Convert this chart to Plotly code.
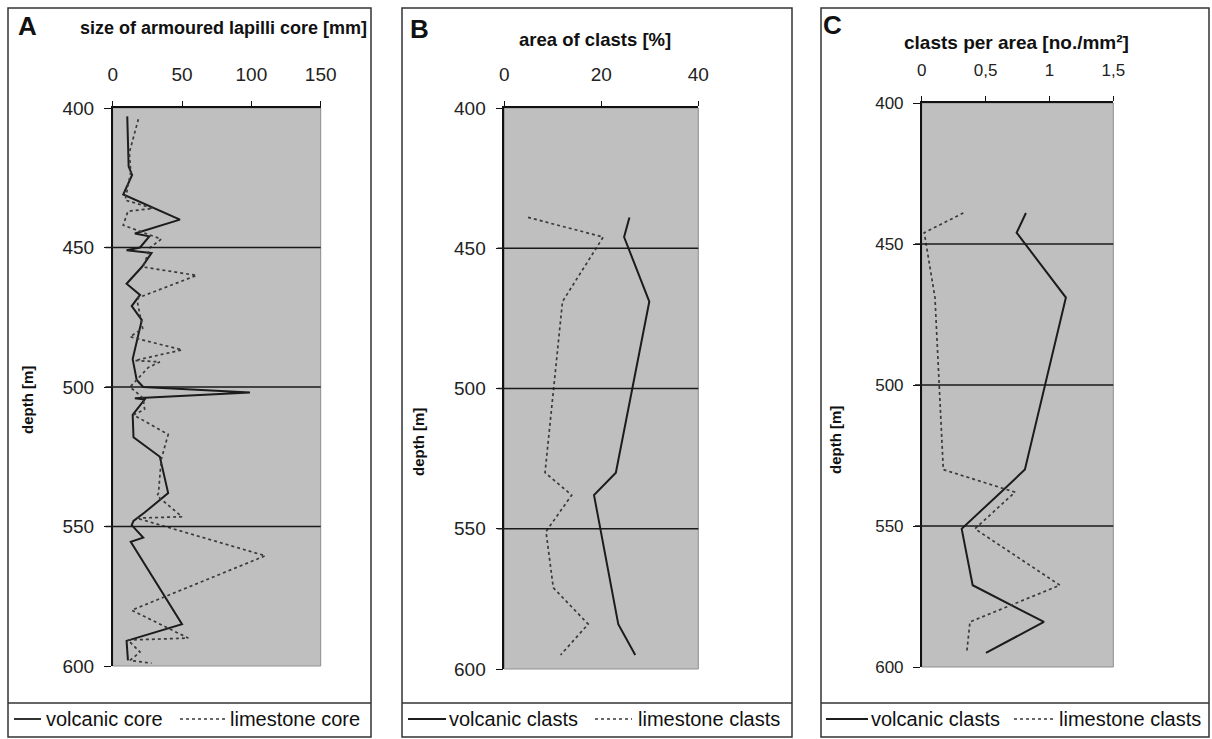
import plotly.graph_objects as go

W, H = 1212, 739

# ---------------- data ----------------
# Panel A: size of armoured lapilli core [mm]
depth_a_volc = [403, 421, 424, 431, 440, 445, 446, 450, 451, 452, 457, 463, 467, 471, 476,
                490, 497.5, 500, 502, 504, 504.5, 510, 518, 525, 538, 540.5, 545, 548, 549.5,
                554, 555.5, 585, 591, 598]
size_a_volc = [10.5, 11.5, 14, 7.6, 48.5, 16, 26.4, 19.7, 10, 28, 21, 10, 19.7, 13.7, 21,
               14.4, 17.3, 22, 99, 16, 23, 14.4, 15, 34, 40, 34, 23, 15, 13.7,
               22, 13, 50, 10, 11]
depth_a_lime = [404, 416, 423, 433, 436, 437, 442, 447, 450, 457, 460, 468, 469.5, 479, 482,
                486.7, 490.5, 491, 493, 500, 504, 508, 510, 517, 526, 538, 539, 546.5, 547,
                551.5, 560.5, 580, 590, 590.7, 595, 598, 599]
size_a_lime = [18.5, 12, 13, 9, 29, 11, 7.6, 35, 27, 22, 60.5, 18.5, 17.8, 21.6, 12.5,
               50, 16, 34, 25.7, 12.5, 22, 23, 15, 40, 35, 33, 32, 50, 17.3,
               48.5, 110, 13.7, 54.5, 11, 19.7, 12.5, 28]

# Panels B and C: sample depths
depth_bc = [439, 446, 469, 530, 538, 551, 571, 584, 595]
area_volc = [25.8, 24.7, 29.9, 23, 18.5, 19.9, 22, 23.5, 27]
area_lime = [4.9, 20.4, 12, 8.4, 13.9, 8.6, 10.1, 17.3, 11.6]
count_volc = [0.816, 0.743, 1.129, 0.808, 0.62, 0.313, 0.399, 0.957, 0.503]
count_lime = [0.326, 0.02, 0.104, 0.169, 0.73, 0.417, 1.082, 0.378, 0.352]

depth_ticks = [400, 450, 500, 550, 600]
depth_lines = [450, 500, 550]
ticks_a = [0, 50, 100, 150]
ticks_b = [0, 20, 40]
ticks_c = [0, 0.5, 1, 1.5]
ticktext_c = ["0", "0,5", "1", "1,5"]

titles = ["size of armoured lapilli core [mm]", "area of clasts [%]", "clasts per area [no./mm²]"]
letters = ["A", "B", "C"]
legend_a = ["volcanic core", "limestone core"]
legend_bc = ["volcanic clasts", "limestone clasts"]

# ---------------- helpers ----------------
def px(x):
    return x / W

def py(y):
    return 1 - y / H

FONT = "Liberation Sans, Arial, sans-serif"
NARROW = "Liberation Sans Narrow, Arial Narrow, Liberation Sans, Arial, sans-serif"
SOLID = "#1c1c1c"
DOT = "#3a3a3a"
GRAY = "#bfbfbf"

fig = go.Figure()

panels = [
    dict(x=(112.7, 320.7), y=(108, 666), rng=[0, 150], tv=ticks_a, tt=[str(v) for v in ticks_a], fs=19,
         series=[(size_a_volc, depth_a_volc), (size_a_lime, depth_a_lime)]),
    dict(x=(504.3, 698.3), y=(108, 669), rng=[0, 40], tv=ticks_b, tt=[str(v) for v in ticks_b], fs=19,
         series=[(area_volc, depth_bc), (area_lime, depth_bc)]),
    dict(x=(921.7, 1113.3), y=(103, 667), rng=[0, 1.5], tv=ticks_c, tt=ticktext_c, fs=17,
         series=[(count_volc, depth_bc), (count_lime, depth_bc)]),
]

layout_axes = {}
for i, p in enumerate(panels):
    n = "" if i == 0 else str(i + 1)
    xa, ya = "x" + n, "y" + n
    for k, (xs, ys) in enumerate(p["series"]):
        fig.add_trace(go.Scatter(
            x=xs, y=ys, mode="lines", xaxis=xa, yaxis=ya, showlegend=False,
            line=dict(color=SOLID if k == 0 else DOT, width=2.0 if k == 0 else 1.7,
                      dash="solid" if k == 0 else "dot"),
            hoverinfo="skip"))
    layout_axes["xaxis" + n] = dict(
        domain=[px(p["x"][0]), px(p["x"][1])], range=p["rng"], side="top", anchor=ya,
        tickmode="array", tickvals=p["tv"], ticktext=p["tt"], showgrid=False, zeroline=False,
        showline=True, linecolor="#111", linewidth=1.5, ticks="outside", ticklen=5,
        tickcolor="#111", tickwidth=1.3, ticklabelstandoff=13,
        tickfont=dict(family=FONT, size=p["fs"], color="#222"), fixedrange=True)
    layout_axes["yaxis" + n] = dict(
        domain=[py(p["y"][1]), py(p["y"][0])], range=[600, 400], anchor=xa,
        tickmode="array", tickvals=depth_ticks, showgrid=False, zeroline=False,
        showline=True, linecolor="#111", linewidth=1.5, ticks="outside", ticklen=7,
        tickcolor="#111", tickwidth=1.3, ticklabelstandoff=6,
        tickfont=dict(family=FONT, size=p["fs"], color="#222"), fixedrange=True)

fig.update_layout(**layout_axes)

shapes = []
annotations = []

# gray plot backgrounds, horizontal depth lines
for i, p in enumerate(panels):
    n = "" if i == 0 else str(i + 1)
    shapes.append(dict(type="rect", xref="x" + n + " domain", yref="y" + n + " domain",
                       x0=0, x1=1, y0=0, y1=1, fillcolor=GRAY,
                       line=dict(color="#8f8f8f", width=1), layer="below"))
    for d in depth_lines:
        shapes.append(dict(type="line", xref="x" + n + " domain", yref="y" + n,
                           x0=-0.035, x1=1, y0=d, y1=d, line=dict(color="#1a1a1a", width=1.6),
                           layer="above"))

# panel frames
frames = [(8, 371), (402, 792), (821, 1209)]
for (l, r) in frames:
    shapes.append(dict(type="rect", xref="paper", yref="paper", x0=px(l), x1=px(r),
                       y0=py(737), y1=py(8), line=dict(color="#333", width=1.5)))
    shapes.append(dict(type="line", xref="paper", yref="paper", x0=px(l), x1=px(r),
                       y0=py(703), y1=py(703), line=dict(color="#333", width=1.5)))

# letters and titles
letter_pos = [(27, 26), (419, 29), (832, 25)]
title_pos = [(223, 28), (595, 40), (1016, 42)]
title_size = [18, 18.5, 19]
for i in range(3):
    annotations.append(dict(text="<b>%s</b>" % letters[i], x=px(letter_pos[i][0]), y=py(letter_pos[i][1]),
                            xref="paper", yref="paper", showarrow=False,
                            font=dict(family=FONT, size=26, color="#111"), xanchor="center", yanchor="middle"))
    annotations.append(dict(text="<b>%s</b>" % titles[i], x=px(title_pos[i][0]), y=py(title_pos[i][1]),
                            xref="paper", yref="paper", showarrow=False,
                            font=dict(family=FONT, size=title_size[i], color="#111"),
                            xanchor="center", yanchor="middle"))

# depth labels
depth_pos = [(27, 400), (418, 442), (836, 440)]
for (x, y) in depth_pos:
    annotations.append(dict(text="<b>depth [m]</b>", x=px(x), y=py(y), xref="paper", yref="paper",
                            showarrow=False, textangle=-90, font=dict(family=FONT, size=15, color="#111"),
                            xanchor="center", yanchor="middle"))

# legends
leg = [
    dict(s=(14, 41), t1=44, d=(180, 225), t2=228, labels=legend_a),
    dict(s=(408, 446), t1=447, d=(595, 632), t2=636, labels=legend_bc),
    dict(s=(826, 868), t1=869, d=(1014, 1053), t2=1057, labels=legend_bc),
]
ly = 719
for g in leg:
    shapes.append(dict(type="line", xref="paper", yref="paper", x0=px(g["s"][0]), x1=px(g["s"][1]),
                       y0=py(ly), y1=py(ly), line=dict(color=SOLID, width=1.8)))
    shapes.append(dict(type="line", xref="paper", yref="paper", x0=px(g["d"][0]), x1=px(g["d"][1]),
                       y0=py(ly), y1=py(ly), line=dict(color=DOT, width=1.5, dash="dot")))
    annotations.append(dict(text=g["labels"][0], x=px(g["t1"]), y=py(ly), xref="paper", yref="paper",
                            showarrow=False, xanchor="left", yanchor="middle",
                            font=dict(family=NARROW, size=20, color="#111")))
    annotations.append(dict(text=g["labels"][1], x=px(g["t2"]), y=py(ly), xref="paper", yref="paper",
                            showarrow=False, xanchor="left", yanchor="middle",
                            font=dict(family=NARROW, size=20, color="#111")))

fig.update_layout(
    width=W, height=H, autosize=False,
    margin=dict(l=0, r=0, t=0, b=0, pad=0, autoexpand=False),
    paper_bgcolor="white", plot_bgcolor=GRAY,
    shapes=shapes, annotations=annotations, showlegend=False,
)

fig.write_html("out.html", config={"displayModeBar": False, "responsive": False},
               post_script="document.body.style.margin='0';document.body.style.overflow='hidden';")
